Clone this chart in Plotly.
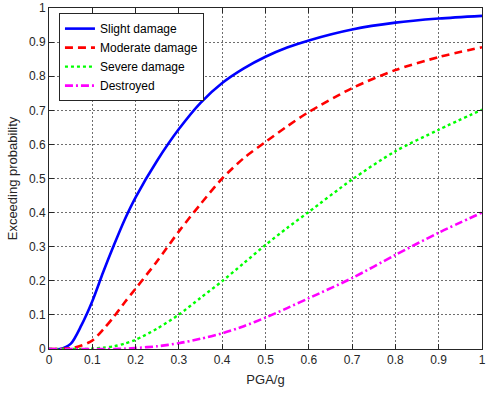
import plotly.graph_objects as go

# PGA values (g) at which the curves were read
pga = [0, 0.025, 0.05, 0.075, 0.1, 0.125, 0.15, 0.175, 0.2, 0.25, 0.3,
       0.35, 0.4, 0.45, 0.5, 0.55, 0.6, 0.7, 0.8, 0.9, 1.0]

slight = [0, 0, 0.015, 0.07, 0.14, 0.225, 0.305, 0.38, 0.445, 0.553, 0.645,
          0.722, 0.78, 0.823, 0.857, 0.884, 0.905, 0.937, 0.957, 0.969, 0.977]
moderate = [0, 0, 0.002, 0.01, 0.025, 0.057, 0.095, 0.137, 0.177, 0.258, 0.345,
            0.425, 0.5, 0.56, 0.607, 0.653, 0.695, 0.765, 0.818, 0.856, 0.885]
severe = [0, 0, 0, 0, 0.001, 0.004, 0.008, 0.016, 0.027, 0.06, 0.101,
          0.15, 0.199, 0.252, 0.305, 0.355, 0.402, 0.497, 0.58, 0.643, 0.702]
destroyed = [0, 0, 0, 0, 0, 0, 0, 0.001, 0.003, 0.008, 0.017,
             0.03, 0.046, 0.067, 0.092, 0.12, 0.149, 0.208, 0.276, 0.341, 0.4]

series = [
    ("Slight damage", slight, "#0000FF", "solid", 2.6),
    ("Moderate damage", moderate, "#FF0000", "8px,5px", 2.6),
    ("Severe damage", severe, "#00FF00", "dot", 2.4),
    ("Destroyed", destroyed, "#FF00FF", "8px,3px,2px,3px", 2.6),
]

ticks = [0, 0.1, 0.2, 0.3, 0.4, 0.5, 0.6, 0.7, 0.8, 0.9, 1]
tick_text = ["0", "0.1", "0.2", "0.3", "0.4", "0.5", "0.6", "0.7", "0.8", "0.9", "1"]

fig = go.Figure()
for name, vals, color, dash, width in series:
    fig.add_trace(go.Scatter(
        x=pga, y=vals, name=name, mode="lines",
        line=dict(color=color, dash=dash, width=width, shape="spline", smoothing=0.8),
    ))

axis_style = dict(
    range=[0, 1],
    tickmode="array",
    tickvals=ticks,
    ticktext=tick_text,
    showline=True,
    linecolor="#262626",
    linewidth=1,
    mirror="allticks",
    ticks="inside",
    ticklen=5,
    tickcolor="#262626",
    showgrid=True,
    gridcolor="#6e6e6e",
    gridwidth=1,
    griddash="2px,2px",
    zeroline=False,
    automargin=False,
    ticklabeloverflow="allow",
    tickfont=dict(size=12, color="#262626"),
)

fig.update_xaxes(title=dict(text="PGA/g", font=dict(size=13, color="#262626"), standoff=8),
                 **axis_style)
fig.update_yaxes(title=dict(text="Exceeding probability", font=dict(size=13, color="#262626"), standoff=8),
                 **axis_style)

fig.update_layout(
    width=488,
    height=396,
    margin=dict(l=49, r=6, t=8, b=47),
    paper_bgcolor="white",
    plot_bgcolor="white",
    font=dict(family="Liberation Sans, Arial, sans-serif", color="#262626"),
    legend=dict(
        x=0.023, y=0.985, xanchor="left", yanchor="top",
        bgcolor="white", bordercolor="#262626", borderwidth=1,
        font=dict(size=12, color="#000000"),
        tracegroupgap=0,
    ),
)

# drop the default page margin so the figure sits at the window's corner
fig.write_html(
    "out.html",
    config={"displayModeBar": False},
    post_script="document.body.style.margin='0';",
)
